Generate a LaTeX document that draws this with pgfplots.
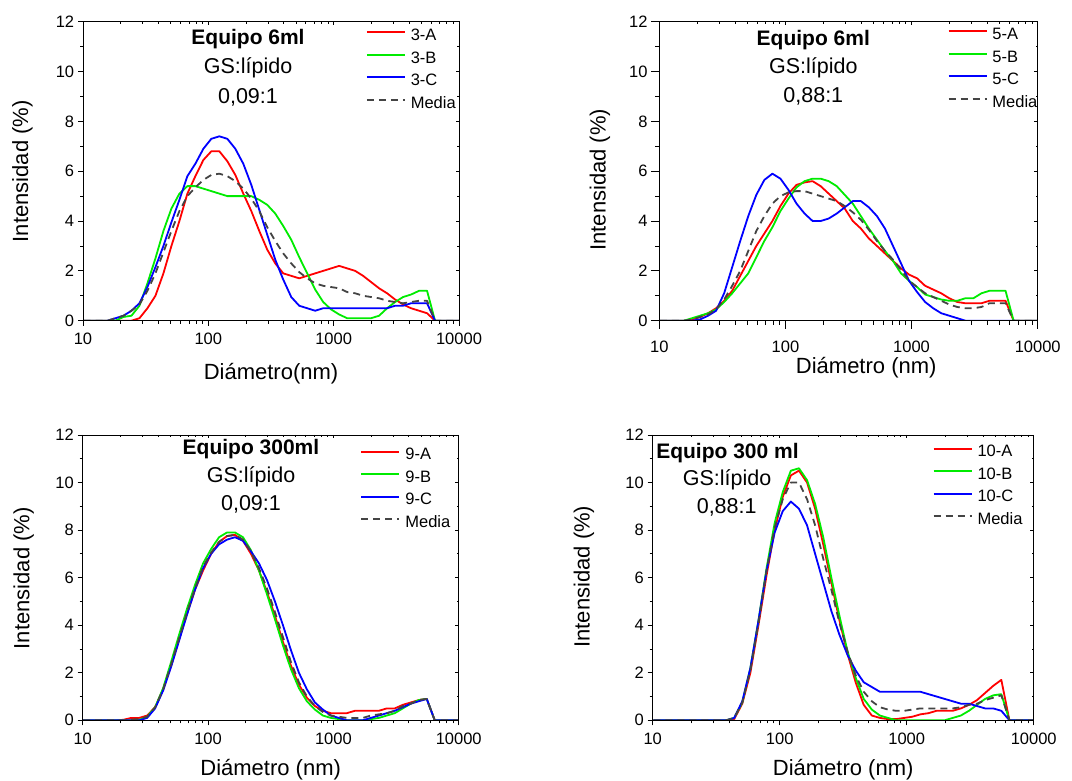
\documentclass[border=0pt]{standalone}
\usepackage{fontspec}
\setmainfont{Liberation Sans}
\usepackage{pgfplots}
\usepackage{pgfplotstable}
\pgfplotsset{compat=1.18}

\definecolor{cA}{RGB}{255,0,0}
\definecolor{cB}{RGB}{0,235,0}
\definecolor{cC}{RGB}{0,0,255}
\definecolor{cM}{RGB}{68,68,68}

% Size distributions (intensity, %) per DLS size class (nm)
\pgfplotstableread{
d A B C M
10.1 0 0 0 0
11.7 0 0 0 0
13.54 0 0 0 0
15.69 0 0 0 0
18.17 0 0 0.1 0.1
21.04 0 0.15 0.2 0.2
24.36 0 0.2 0.4 0.4
28.21 0.1 0.6 0.7 0.65
32.67 0.5 1.5 1.35 1.2
37.84 1.0 2.5 2.15 1.9
43.82 1.9 3.6 3.0 2.75
50.75 3.0 4.5 3.95 3.6
58.77 4.0 5.1 4.85 4.4
68.06 5.1 5.4 5.8 5.0
78.82 5.8 5.4 6.3 5.35
91.28 6.45 5.3 6.9 5.65
105.7 6.8 5.2 7.3 5.85
122.4 6.8 5.1 7.4 5.9
141.8 6.4 5.0 7.3 5.8
164.2 5.85 5.0 6.9 5.6
190.1 5.1 5.0 6.3 5.3
220.2 4.4 5.0 5.45 4.9
255.0 3.6 4.85 4.45 4.4
295.3 2.85 4.65 3.45 3.75
342.0 2.3 4.3 2.45 3.2
396.1 1.9 3.8 1.65 2.7
458.7 1.8 3.25 0.95 2.3
531.2 1.7 2.55 0.6 1.95
615.1 1.8 1.9 0.5 1.7
712.4 1.9 1.25 0.4 1.5
825.0 2.0 0.75 0.5 1.4
955.4 2.1 0.45 0.5 1.35
1106 2.2 0.25 0.5 1.3
1281 2.1 0.1 0.5 1.15
1484 2.0 0.1 0.5 1.1
1718 1.8 0.1 0.5 1.0
1990 1.55 0.1 0.5 0.95
2305 1.3 0.2 0.5 0.9
2669 1.1 0.5 0.5 0.8
3091 0.85 0.75 0.6 0.75
3580 0.65 0.95 0.6 0.7
4145 0.5 1.05 0.7 0.75
4801 0.4 1.2 0.7 0.8
5560 0.3 1.2 0.7 0.8
6439 0 0 0 0
7456 0 0 0 0
8635 0 0 0 0
10000 0 0 0 0
}\tabThree

\pgfplotstableread{
d A B C M
10.1 0 0 0 0
11.7 0 0 0 0
13.54 0 0 0 0
15.69 0 0 0 0
18.17 0.05 0.1 0 0.05
21.04 0.15 0.2 0.05 0.15
24.36 0.3 0.3 0.2 0.25
28.21 0.5 0.45 0.4 0.45
32.67 0.8 0.75 1.1 0.85
37.84 1.2 1.1 2.15 1.4
43.82 1.8 1.5 3.2 2.0
50.75 2.4 1.9 4.2 2.8
58.77 3.0 2.55 5.05 3.6
68.06 3.5 3.2 5.65 4.2
78.82 4.0 3.75 5.9 4.7
91.28 4.6 4.4 5.7 5.0
105.7 5.1 4.9 5.25 5.15
122.4 5.45 5.35 4.7 5.2
141.8 5.55 5.6 4.3 5.2
164.2 5.6 5.7 4.0 5.1
190.1 5.4 5.7 4.0 5.0
220.2 5.1 5.6 4.1 4.9
255.0 4.8 5.4 4.3 4.8
295.3 4.5 5.05 4.55 4.6
342.0 4.0 4.7 4.8 4.35
396.1 3.7 4.2 4.8 4.05
458.7 3.3 3.7 4.55 3.65
531.2 3.0 3.25 4.2 3.2
615.1 2.7 2.8 3.7 2.8
712.4 2.4 2.4 3.0 2.45
825.0 2.1 1.9 2.3 2.05
955.4 1.85 1.6 1.6 1.6
1106 1.7 1.35 1.15 1.35
1281 1.4 1.05 0.75 1.1
1484 1.25 0.95 0.5 0.95
1718 1.1 0.85 0.3 0.8
1990 0.9 0.8 0.2 0.65
2305 0.75 0.8 0.1 0.55
2669 0.7 0.9 0 0.5
3091 0.7 0.9 0 0.5
3580 0.7 1.1 0 0.55
4145 0.8 1.2 0 0.7
4801 0.8 1.2 0 0.7
5560 0.8 1.2 0 0.7
6439 0 0 0 0
7456 0 0 0 0
8635 0 0 0 0
10000 0 0 0 0
}\tabFive

\pgfplotstableread{
d A B C M
10.1 0 0 0 0
11.7 0 0 0 0
13.54 0 0 0 0
15.69 0 0 0 0
18.17 0 0 0 0
21.04 0.02 0 0 0
24.36 0.1 0 0 0.03
28.21 0.1 0.02 0 0.05
32.67 0.2 0.15 0.1 0.15
37.84 0.55 0.55 0.5 0.55
43.82 1.3 1.35 1.25 1.3
50.75 2.3 2.45 2.25 2.35
58.77 3.4 3.6 3.35 3.45
68.06 4.5 4.7 4.45 4.55
78.82 5.5 5.7 5.5 5.55
91.28 6.3 6.6 6.4 6.45
105.7 7.0 7.2 7.0 7.05
122.4 7.5 7.7 7.4 7.5
141.8 7.75 7.9 7.6 7.75
164.2 7.8 7.9 7.7 7.8
190.1 7.55 7.7 7.55 7.6
220.2 7.0 7.15 7.1 7.1
255.0 6.3 6.3 6.6 6.4
295.3 5.4 5.3 5.9 5.55
342.0 4.4 4.25 5.0 4.55
396.1 3.3 3.15 4.0 3.5
458.7 2.3 2.15 2.95 2.45
531.2 1.5 1.35 2.0 1.6
615.1 0.95 0.8 1.3 1.0
712.4 0.6 0.45 0.75 0.6
825.0 0.4 0.2 0.45 0.35
955.4 0.3 0.1 0.2 0.2
1106 0.3 0.05 0.1 0.15
1281 0.3 0 0 0.1
1484 0.4 0 0 0.1
1718 0.4 0 0 0.1
1990 0.4 0.05 0.1 0.2
2305 0.4 0.1 0.2 0.25
2669 0.5 0.2 0.3 0.3
3091 0.5 0.3 0.4 0.4
3580 0.65 0.5 0.55 0.6
4145 0.75 0.7 0.7 0.7
4801 0.85 0.85 0.8 0.85
5560 0.9 0.9 0.9 0.9
6439 0 0 0 0
7456 0 0 0 0
8635 0 0 0 0
10000 0 0 0 0
}\tabNine

\pgfplotstableread{
d A B C M
10.1 0 0 0 0
11.7 0 0 0 0
13.54 0 0 0 0
15.69 0 0 0 0
18.17 0 0 0 0
21.04 0 0 0 0
24.36 0 0 0 0
28.21 0 0 0 0
32.67 0 0 0 0
37.84 0 0 0 0
43.82 0.05 0.1 0.1 0.1
50.75 0.7 0.75 0.8 0.75
58.77 2.0 2.2 2.2 2.1
68.06 4.0 4.2 4.2 4.1
78.82 6.1 6.4 6.3 6.3
91.28 8.0 8.3 7.9 8.1
105.7 9.4 9.6 8.8 9.3
122.4 10.3 10.5 9.2 10.0
141.8 10.5 10.6 8.9 10.0
164.2 10.0 10.1 8.2 9.3
190.1 8.9 9.1 7.0 8.2
220.2 7.4 7.7 5.8 6.8
255.0 5.8 6.0 4.6 5.5
295.3 4.2 4.4 3.6 4.1
342.0 2.8 2.9 2.75 2.9
396.1 1.6 1.8 2.1 1.9
458.7 0.65 0.9 1.6 1.2
531.2 0.2 0.45 1.4 0.8
615.1 0.1 0.2 1.2 0.55
712.4 0.05 0.1 1.2 0.45
825.0 0.05 0 1.2 0.4
955.4 0.1 0 1.2 0.4
1106 0.15 0 1.2 0.45
1281 0.25 0 1.2 0.5
1484 0.3 0 1.1 0.5
1718 0.4 0 1.0 0.5
1990 0.4 0 0.9 0.5
2305 0.4 0.1 0.8 0.5
2669 0.5 0.2 0.7 0.55
3091 0.65 0.4 0.7 0.65
3580 0.85 0.65 0.6 0.7
4145 1.15 0.9 0.5 0.85
4801 1.45 1.05 0.5 0.95
5560 1.7 1.1 0.4 1.05
6439 0 0 0 0
7456 0 0 0 0
8635 0 0 0 0
10000 0 0 0 0
}\tabTen

\newcommand{\lblfont}{\fontsize{22}{26}\selectfont}

\pgfplotsset{
  % labels, outward ticks and legend of a distribution panel
  dlsmain/.style={
    xticklabels={10,100,1000,10000},
    tick align=outside, xtick pos=left, ytick pos=left,
    major tick length=5pt, minor tick length=3pt,
    ticklabel style={font=\fontsize{16.5}{19}\selectfont},
    xticklabel style={inner sep=0pt, yshift=-7.5pt},
    yticklabel style={inner sep=0pt, xshift=-3.7pt},
    /pgf/number format/assume math mode=true,
    legend style={draw=none, fill=none, inner sep=0pt, outer sep=0pt,
      anchor=north west, row sep=3pt, column sep=3pt,
      font=\fontsize{16.5}{19}\selectfont,
      nodes={text height=12pt, text depth=3.5pt, inner sep=2pt}},
    legend cell align=left,
    legend image code/.code={\draw[##1] (0pt,4pt) -- (38pt,4pt);},
    every axis plot/.append style={line width=1.8pt, line join=round},
    ylabel={Intensidad (\%)},
  },
  % short inward ticks on the top and right edges
  dlsmirror/.style={
    xticklabels={}, yticklabels={},
    tick align=inside, xtick pos=right, ytick pos=right,
    major tick length=3.5pt, minor tick length=2pt,
  },
}
\tikzset{
  sA/.style={color=cA},
  sB/.style={color=cB},
  sC/.style={color=cC},
  sM/.style={color=cM, dash pattern=on 7pt off 5pt},
}

% log diameter axis 10-10000 nm, intensity 0-12 %
\newenvironment{dlsaxis}[1][]{%
  \begin{axis}[scale only axis, xmode=log, xmin=10, xmax=10000, ymin=0, ymax=12,
    xtick={10,100,1000,10000},
    minor xtick={20,30,40,50,60,70,80,90,200,300,400,500,600,700,800,900,2000,3000,4000,5000,6000,7000,8000,9000},
    ytick={0,2,4,6,8,10,12}, minor ytick={1,3,5,7,9,11},
    axis line style={line width=0.8pt}, tick style={black, line width=0.8pt},
    #1]}{\end{axis}}

\newcommand{\ttl}{\fontsize{21}{25}\selectfont\bfseries}
\newcommand{\sub}{\fontsize{21.5}{25}\selectfont}

\begin{document}
\begin{tikzpicture}
\useasboundingbox (0pt,0pt) rectangle (1072pt,780pt);

% ---- Equipo 6ml, 0,09:1
\begin{dlsaxis}[dlsmain, at={(83pt,459.3pt)}, anchor=south west, width=376pt, height=299pt,
  xlabel={Diámetro(nm)},
  every axis x label/.style={at={(axis description cs:0.5,0)}, anchor=base, yshift=-59.3pt, font=\lblfont},
  every axis y label/.style={at={(axis description cs:-0.1614,0.5)}, rotate=90, anchor=center, font=\lblfont},
  legend style={at={(0.7527,0.9836)}}]
\addplot[sA] table[x=d,y=A] {\tabThree}; \addlegendentry{3-A}
\addplot[sB] table[x=d,y=B] {\tabThree}; \addlegendentry{3-B}
\addplot[sC] table[x=d,y=C] {\tabThree}; \addlegendentry{3-C}
\addplot[sM] table[x=d,y=M] {\tabThree}; \addlegendentry{Media}
\end{dlsaxis}
\begin{dlsaxis}[dlsmirror, at={(83pt,459.3pt)}, anchor=south west, width=376pt, height=299pt]
\end{dlsaxis}

% ---- Equipo 6ml, 0,88:1
\begin{dlsaxis}[dlsmain, at={(659.3pt,459.3pt)}, anchor=south west, width=378.4pt, height=299pt,
  major tick length=8pt, minor tick length=4pt,
  xticklabel style={yshift=-4.5pt}, yticklabel style={xshift=0pt},
  xlabel={Diámetro (nm)},
  every axis x label/.style={at={(axis description cs:0.5468,0)}, anchor=base, yshift=-52.6pt, font=\lblfont},
  every axis y label/.style={at={(axis description cs:-0.1567,0.4716)}, rotate=90, anchor=center, font=\lblfont},
  legend style={at={(0.762,0.987)}}]
\addplot[sA] table[x=d,y=A] {\tabFive}; \addlegendentry{5-A}
\addplot[sB] table[x=d,y=B] {\tabFive}; \addlegendentry{5-B}
\addplot[sC] table[x=d,y=C] {\tabFive}; \addlegendentry{5-C}
\addplot[sM] table[x=d,y=M] {\tabFive}; \addlegendentry{Media}
\end{dlsaxis}
\begin{dlsaxis}[dlsmirror, at={(659.3pt,459.3pt)}, anchor=south west, width=378.4pt, height=299pt]
\end{dlsaxis}

% ---- Equipo 300ml, 0,09:1
\begin{dlsaxis}[dlsmain, at={(82.7pt,59.7pt)}, anchor=south west, width=376pt, height=285.3pt,
  xlabel={Diámetro (nm)},
  every axis x label/.style={at={(axis description cs:0.5,0)}, anchor=base, yshift=-54.7pt, font=\lblfont},
  every axis y label/.style={at={(axis description cs:-0.1569,0.498)}, rotate=90, anchor=center, font=\lblfont},
  legend style={at={(0.739,0.9618)}}]
\addplot[sA] table[x=d,y=A] {\tabNine}; \addlegendentry{9-A}
\addplot[sB] table[x=d,y=B] {\tabNine}; \addlegendentry{9-B}
\addplot[sC] table[x=d,y=C] {\tabNine}; \addlegendentry{9-C}
\addplot[sM] table[x=d,y=M] {\tabNine}; \addlegendentry{Media}
\end{dlsaxis}
\begin{dlsaxis}[dlsmirror, at={(82.7pt,59.7pt)}, anchor=south west, width=376pt, height=285.3pt]
\end{dlsaxis}

% ---- Equipo 300 ml, 0,88:1
\begin{dlsaxis}[dlsmain, at={(652.7pt,59.7pt)}, anchor=south west, width=381pt, height=285.3pt,
  xlabel={Diámetro (nm)},
  every axis x label/.style={at={(axis description cs:0.5,0)}, anchor=base, yshift=-54.7pt, font=\lblfont},
  every axis y label/.style={at={(axis description cs:-0.1803,0.5035)}, rotate=90, anchor=center, font=\lblfont},
  legend style={at={(0.735,0.972)}}]
\addplot[sA] table[x=d,y=A] {\tabTen}; \addlegendentry{10-A}
\addplot[sB] table[x=d,y=B] {\tabTen}; \addlegendentry{10-B}
\addplot[sC] table[x=d,y=C] {\tabTen}; \addlegendentry{10-C}
\addplot[sM] table[x=d,y=M] {\tabTen}; \addlegendentry{Media}
\end{dlsaxis}
\begin{dlsaxis}[dlsmirror, at={(652.7pt,59.7pt)}, anchor=south west, width=381pt, height=285.3pt]
\end{dlsaxis}

% ---- panel captions
\node[anchor=base, inner sep=0pt] at (248pt,735pt) {\ttl Equipo 6ml};
\node[anchor=base, inner sep=0pt] at (248pt,706pt) {\sub GS:lípido};
\node[anchor=base, inner sep=0pt] at (248pt,676.7pt) {\sub 0,09:1};

\node[anchor=base, inner sep=0pt] at (813.3pt,734.3pt) {\ttl Equipo 6ml};
\node[anchor=base, inner sep=0pt] at (813.3pt,706pt) {\sub GS:lípido};
\node[anchor=base, inner sep=0pt] at (813.3pt,677.3pt) {\sub 0,88:1};

\node[anchor=base, inner sep=0pt] at (251pt,325pt) {\ttl Equipo 300ml};
\node[anchor=base, inner sep=0pt] at (251pt,297.3pt) {\sub GS:lípido};
\node[anchor=base, inner sep=0pt] at (251pt,269.3pt) {\sub 0,09:1};

\node[anchor=base, inner sep=0pt] at (727.5pt,321.7pt) {\ttl Equipo 300 ml};
\node[anchor=base, inner sep=0pt] at (727pt,294pt) {\sub GS:lípido};
\node[anchor=base, inner sep=0pt] at (726.7pt,266pt) {\sub 0,88:1};
\end{tikzpicture}
\end{document}
